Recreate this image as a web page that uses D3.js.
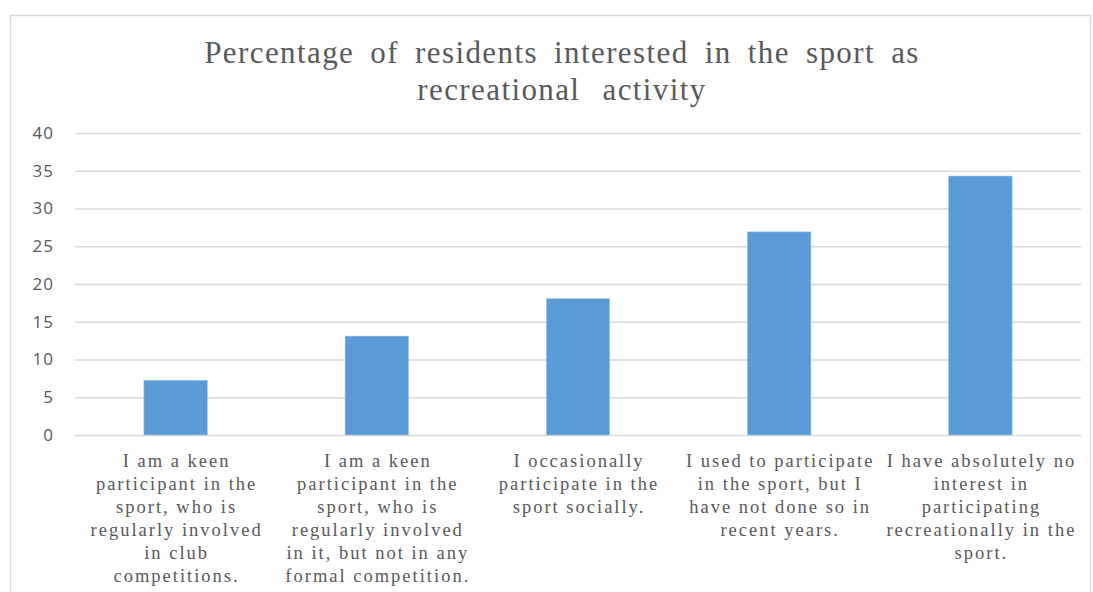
<!DOCTYPE html>
<html><head><meta charset="utf-8">
<script src="https://cdn.jsdelivr.net/npm/d3@7"></script>
<style>body{margin:0;background:#fff}svg{display:block}</style>
</head><body>
<div id="chart"></div>
<script>
const titleLines = ["Percentage of residents interested in the sport as", "recreational activity"];
const categories = [
  ["I am a keen", "participant in the", "sport, who is", "regularly involved", "in club", "competitions."],
  ["I am a keen", "participant in the", "sport, who is", "regularly involved", "in it, but not in any", "formal competition."],
  ["I occasionally", "participate in the", "sport socially."],
  ["I used to participate", "in the sport, but I", "have not done so in", "recent years."],
  ["I have absolutely no", "interest in", "participating", "recreationally in the", "sport."]
];
const values = [7.25, 13.1, 18.05, 26.9, 34.3];
const yTicks = [0, 5, 10, 15, 20, 25, 30, 35, 40];

const W = 1093, H = 592;
const svg = d3.select("#chart").append("svg").attr("width", W).attr("height", H);
svg.append("rect").attr("x", 10.5).attr("y", 15.5).attr("width", 1080).attr("height", 600)
  .attr("fill", "#fff").attr("stroke", "#d9d9d9").attr("stroke-width", 1.5);

const m = {left: 75, right: 1081, top: 133, bottom: 435};
const x = d3.scaleBand().domain(d3.range(values.length)).range([m.left, m.right]).paddingInner(0.685).paddingOuter(0.3425);
const y = d3.scaleLinear().domain([0, 40]).range([m.bottom, m.top]);

const yAxis = svg.append("g").attr("transform", `translate(${m.left},0)`)
  .call(d3.axisLeft(y).tickValues(yTicks).tickSize(-(m.right - m.left)).tickPadding(21));
yAxis.select(".domain").remove();
yAxis.selectAll(".tick line").attr("stroke", "#d9d9d9").attr("stroke-width", 1.3);
yAxis.selectAll(".tick text").attr("fill", "#595959").attr("font-family", "'Open Sans', sans-serif")
  .attr("font-size", 17).attr("letter-spacing", 1);

svg.append("g").selectAll("rect").data(values).join("rect")
  .attr("x", (d, i) => x(i)).attr("width", x.bandwidth())
  .attr("y", d => y(d)).attr("height", d => y(0) - y(d))
  .attr("fill", "#5b9bd5").attr("stroke", "#9dc3e6").attr("stroke-width", 0.6);

const tg = svg.append("g");
titleLines.forEach((t, i) => {
  tg.append("text").attr("x", 562).attr("y", 63 + i * 37).attr("text-anchor", "middle")
    .attr("font-family", "'Liberation Serif', serif").attr("font-size", 31).attr("fill", "#595959")
    .attr("letter-spacing", 1.4).attr("word-spacing", i === 0 ? 7 : 13).text(t);
});

const lg = svg.append("g");
categories.forEach((lines, i) => {
  const cx = x(i) + x.bandwidth() / 2 + 1;
  lines.forEach((l, j) => {
    lg.append("text").attr("x", cx).attr("y", 467 + j * 23).attr("text-anchor", "middle")
      .attr("font-family", "'Liberation Serif', serif").attr("font-size", 18.5).attr("fill", "#595959")
      .attr("letter-spacing", 2.0).text(l);
  });
});
</script>
</body></html>
